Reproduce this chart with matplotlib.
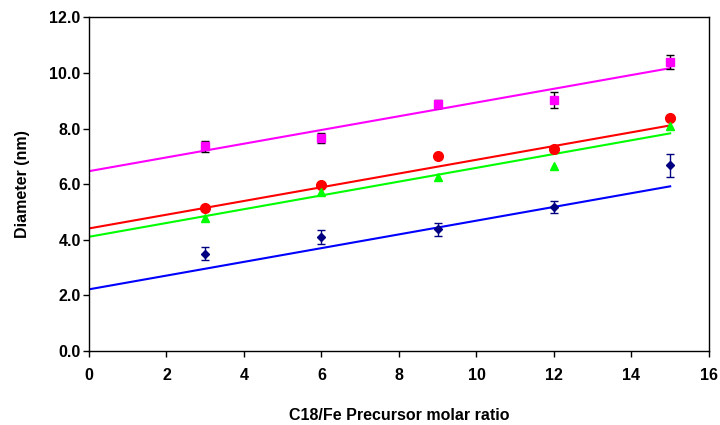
import numpy as np
import matplotlib
matplotlib.use('Agg')
import matplotlib.pyplot as plt

plt.rcParams['font.family'] = ['Liberation Sans', 'DejaVu Sans']

# Razão molar C18/Fe
ratio = [3, 6, 9, 12, 15]

# Diâmetros medidos (nm)
d_magenta = [7.37, 7.68, 8.88, 9.03, 10.40]
err_magenta = [0.20, 0.18, 0.15, 0.27, 0.26]
d_red = [5.15, 5.97, 7.00, 7.25, 8.37]
d_green = [4.80, 5.73, 6.27, 6.67, 8.08]
d_navy = [3.50, 4.10, 4.38, 5.18, 6.68]
err_navy = [0.24, 0.25, 0.23, 0.22, 0.41]

# Retas de tendência (inclinação, intercepto)
fit_magenta = (0.247, 6.47)
fit_red = (0.247, 4.41)
fit_green = (0.248, 4.11)
fit_blue = (0.247, 2.22)
fit_x = [0, 15]


def reta(fit):
    a, b = fit
    return [a * x + b for x in fit_x]


fig = plt.figure(figsize=(7.2, 4.25), dpi=100)
ax = fig.add_axes([0.1236, 0.174, 0.861, 0.785])

# Retas
ax.plot(fit_x, reta(fit_magenta), color='#FF00FF', lw=1.5)
ax.plot(fit_x, reta(fit_red), color='#FF0000', lw=1.5)
ax.plot(fit_x, reta(fit_green), color='#00FF00', lw=1.5)
ax.plot(fit_x, reta(fit_blue), color='#0000FF', lw=1.5)

# Pontos
ax.errorbar(ratio, d_magenta, yerr=err_magenta, fmt='s', color='#FF00FF',
            ecolor='black', elinewidth=1, capsize=3, markersize=5.5, zorder=3)
ax.plot(ratio, d_red, 'o', color='#FF0000', markersize=7, zorder=3)
ax.plot(ratio, d_green, '^', color='#00FF00', markersize=6, zorder=3)
ax.errorbar(ratio, d_navy, yerr=err_navy, fmt='D', color='#000080',
            ecolor='#000080', elinewidth=1, capsize=3, markersize=4.5, zorder=3)

ax.set_xlim(0, 16)
ax.set_ylim(0, 12)
ax.set_xticks(np.arange(0, 17, 2))
ax.set_yticks(np.arange(0, 13, 2))
ax.set_yticklabels([f'{v:.1f}' for v in np.arange(0, 13, 2)])

for lbl in ax.get_xticklabels() + ax.get_yticklabels():
    lbl.set_fontweight('bold')
    lbl.set_fontsize(11.5)

ax.tick_params(direction='out', length=4, width=1)
ax.tick_params(axis='x', pad=8)
ax.tick_params(axis='y', pad=2)

ax.set_xlabel('C18/Fe Precursor molar ratio', fontsize=11.5, fontweight='bold', labelpad=18)
ax.set_ylabel('Diameter (nm)', fontsize=11.5, fontweight='bold', labelpad=14)

for s in ax.spines.values():
    s.set_linewidth(1)

fig.savefig('out.png', dpi=100)
